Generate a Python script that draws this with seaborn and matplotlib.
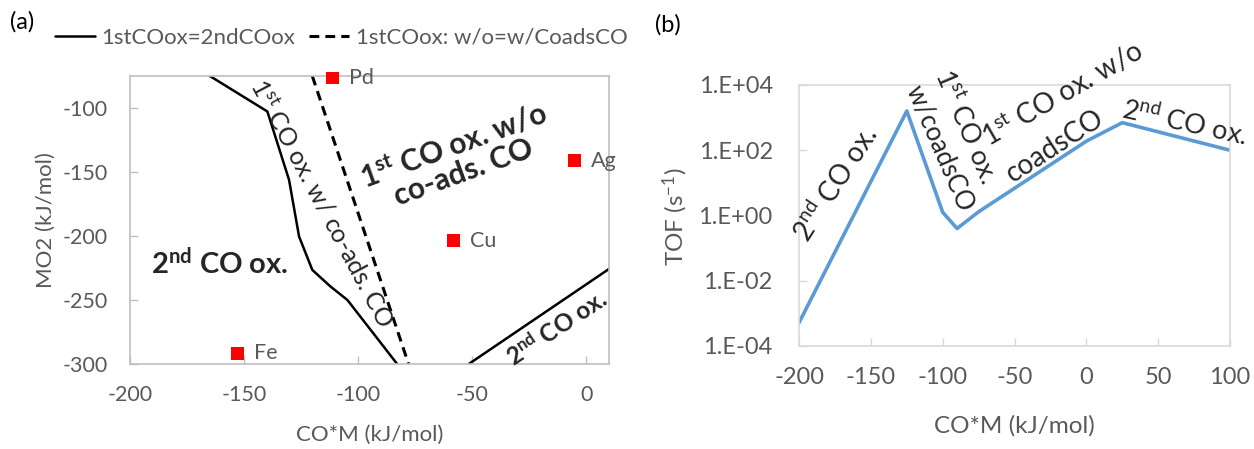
import math
import matplotlib
matplotlib.use("Agg")
import matplotlib.pyplot as plt
import seaborn as sns
from matplotlib.ticker import FixedLocator, FuncFormatter, NullLocator

# ---------------- data ----------------
# panel (a): boundary lines in (CO*M, MO2) space
boundary_x = [-165, -139.8, -130.3, -125.9, -120.1, -112.1, -104.7, -82.9]
boundary_y = [-75, -102.7, -156.1, -200.4, -226.5, -239.5, -250.0, -300]
coads_x = [-120.1, -77.9]
coads_y = [-75, -300]
boundary2_x = [-51.5, 10]
boundary2_y = [-300, -225.7]
metals = ["Pd", "Ag", "Cu", "Fe"]
metal_com = [-111.3, -5.3, -58.1, -152.9]
metal_mo2 = [-76.5, -141.2, -203.6, -291.6]
xticks_a = [-200, -150, -100, -50, 0]
yticks_a = [-100, -150, -200, -250, -300]

# panel (b): TOF vs CO*M
tof_com = [-200, -125, -100, -90, -75, 0, 25, 100]
tof_val = [5.2e-4, 1.6e3, 1.25, 0.4, 1.3, 190, 700, 100]
xticks_b = [-200, -150, -100, -50, 0, 50, 100]
yticks_b = [1e-4, 1e-2, 1, 1e2, 1e4]

legend_labels = ["1stCOox=2ndCOox", "1stCOox: w/o=w/CoadsCO"]

# ---------------- style ----------------
sns.set_theme(style="white")
plt.rcParams["font.family"] = ["Lato", "DejaVu Sans"]
plt.rcParams["mathtext.fontset"] = "custom"
plt.rcParams["mathtext.rm"] = "Lato"
plt.rcParams["mathtext.bf"] = "Lato:bold"
plt.rcParams["mathtext.it"] = "Lato:italic"
plt.rcParams["mathtext.sf"] = "Lato"
plt.rcParams["axes.unicode_minus"] = False

GRAY_TXT = "#595959"

fig = plt.figure(figsize=(12.54, 4.49), dpi=100)
ax1 = fig.add_axes([0.1037, 0.1893, 0.3820, 0.6414])
ax2 = fig.add_axes([0.6372, 0.2294, 0.3437, 0.5813])

# ---------------- panel (a) ----------------
sns.lineplot(x=boundary_x, y=boundary_y, sort=False, estimator=None, color="black",
             lw=1.8, ax=ax1, label=legend_labels[0])
sns.lineplot(x=coads_x, y=coads_y, sort=False, estimator=None, color="black",
             lw=2.2, linestyle=(0, (3.2, 2.0)), ax=ax1, label=legend_labels[1])
sns.lineplot(x=boundary2_x, y=boundary2_y, sort=False, estimator=None, color="black",
             lw=1.8, ax=ax1)
sns.scatterplot(x=metal_com, y=metal_mo2, marker="s", s=85, color="red",
                edgecolor="none", ax=ax1, clip_on=False, zorder=5)
for name, xv, yv in zip(metals, metal_com, metal_mo2):
    ax1.annotate(name, (xv, yv), xytext=(12, 0), textcoords="offset points",
                 ha="left", va="center", fontsize=15.5, color=GRAY_TXT)

handles, labels = ax1.get_legend_handles_labels()
if ax1.get_legend() is not None:
    ax1.get_legend().remove()

ax1.set_xlim(-200, 10)
ax1.set_ylim(-300, -75)
ax1.xaxis.set_major_locator(FixedLocator(xticks_a))
ax1.yaxis.set_major_locator(FixedLocator(yticks_a))
ax1.tick_params(axis="both", direction="in", length=6, width=1, color="#BFBFBF",
                labelcolor=GRAY_TXT, labelsize=15.5, bottom=True, left=True)
ax1.tick_params(axis="x", pad=15)
ax1.tick_params(axis="y", pad=16)
for sp in ax1.spines.values():
    sp.set_color("#BFBFBF")
    sp.set_linewidth(1.2)
ax1.set_xlabel("CO*M (kJ/mol)", fontsize=16, color=GRAY_TXT)
ax1.set_ylabel("MO2 (kJ/mol)", fontsize=16, color=GRAY_TXT)
ax1.xaxis.set_label_coords(0.5, -0.21)
ax1.yaxis.set_label_coords(-0.154, 0.5)

ax1.text(0.188, 0.35, r"2$^{\mathbf{nd}}$ CO ox.", transform=ax1.transAxes,
         fontsize=21, fontweight="bold", ha="center", va="center")
ax1.text(0.685, 0.715, "1$^{\\mathbf{st}}$ CO ox. w/o\nco-ads. CO", transform=ax1.transAxes,
         fontsize=21.5, fontweight="bold", ha="center", va="center", multialignment="center",
         rotation=20, rotation_mode="anchor", linespacing=1.0)
ax1.text(0.401, 0.559, r"1$^{\mathrm{st}}$ CO ox. w/ co-ads. CO", transform=ax1.transAxes,
         fontsize=18, ha="center", va="center", rotation=-62, rotation_mode="anchor")
ax1.text(0.891, 0.125, r"2$^{\mathbf{nd}}$ CO ox.", transform=ax1.transAxes,
         fontsize=17.5, fontweight="bold", ha="center", va="center",
         rotation=33.5, rotation_mode="anchor")

# ---------------- panel (b) ----------------
sns.lineplot(x=tof_com, y=tof_val, sort=False, estimator=None, color="#5B9BD5",
             lw=2.6, ax=ax2)
ax2.set_yscale("log")
ax2.set_xlim(-200, 100)
ax2.set_ylim(1e-4, 1e4)
ax2.xaxis.set_major_locator(FixedLocator(xticks_b))
ax2.yaxis.set_major_locator(FixedLocator(yticks_b))
ax2.yaxis.set_minor_locator(NullLocator())
ax2.yaxis.set_major_formatter(FuncFormatter(
    lambda v, p: "1.E{:+03d}".format(int(round(math.log10(v))))))
ax2.tick_params(axis="both", direction="in", length=6, width=1, color="#D9D9D9",
                labelcolor=GRAY_TXT, labelsize=17, bottom=True, left=True)
ax2.tick_params(axis="x", pad=15)
ax2.tick_params(axis="y", pad=19)
for sp in ax2.spines.values():
    sp.set_color("#D9D9D9")
    sp.set_linewidth(1.2)
ax2.set_xlabel("CO*M (kJ/mol)", fontsize=17.5, color=GRAY_TXT)
ax2.set_ylabel(r"TOF (s$^{-1}$)", fontsize=17.5, color=GRAY_TXT)
ax2.xaxis.set_label_coords(0.5, -0.264)
ax2.yaxis.set_label_coords(-0.253, 0.494)

rkw = dict(transform=ax2.transAxes, ha="center", va="center",
           rotation_mode="anchor", clip_on=False)
ax2.text(0.086, 0.621, r"2$^{\mathrm{nd}}$ CO ox.", rotation=57, fontsize=20, **rkw)
ax2.text(0.327, 0.757, "w/coadsCO", rotation=-66.5, fontsize=18.5, **rkw)
ax2.text(0.386, 0.84, r"1$^{\mathrm{st}}$ CO ox.", rotation=-67, fontsize=19.5, **rkw)
ax2.text(0.612, 0.967, r"1$^{\mathrm{st}}$ CO ox. w/o", rotation=30, fontsize=20, **rkw)
ax2.text(0.595, 0.765, "coadsCO", rotation=33, fontsize=20, **rkw)
ax2.text(0.895, 0.852, r"2$^{\mathrm{nd}}$ CO ox.", rotation=-12.5, fontsize=19.5, **rkw)

# ---------------- legend & panel letters ----------------
fig.legend(handles, labels, loc="center left", bbox_to_anchor=(55 / 1254, 1 - 38 / 449),
           ncol=2, frameon=False, fontsize=16, handlelength=1.8, handletextpad=0.3,
           columnspacing=0.6, borderaxespad=0, borderpad=0, labelcolor=GRAY_TXT)
fig.text(10 / 1254, 1 - 22 / 449, "(a)", fontsize=17, va="center", ha="left", color="black")
fig.text(655 / 1254, 1 - 25 / 449, "(b)", fontsize=17, va="center", ha="left", color="black")

fig.savefig("out.png", dpi=100)
